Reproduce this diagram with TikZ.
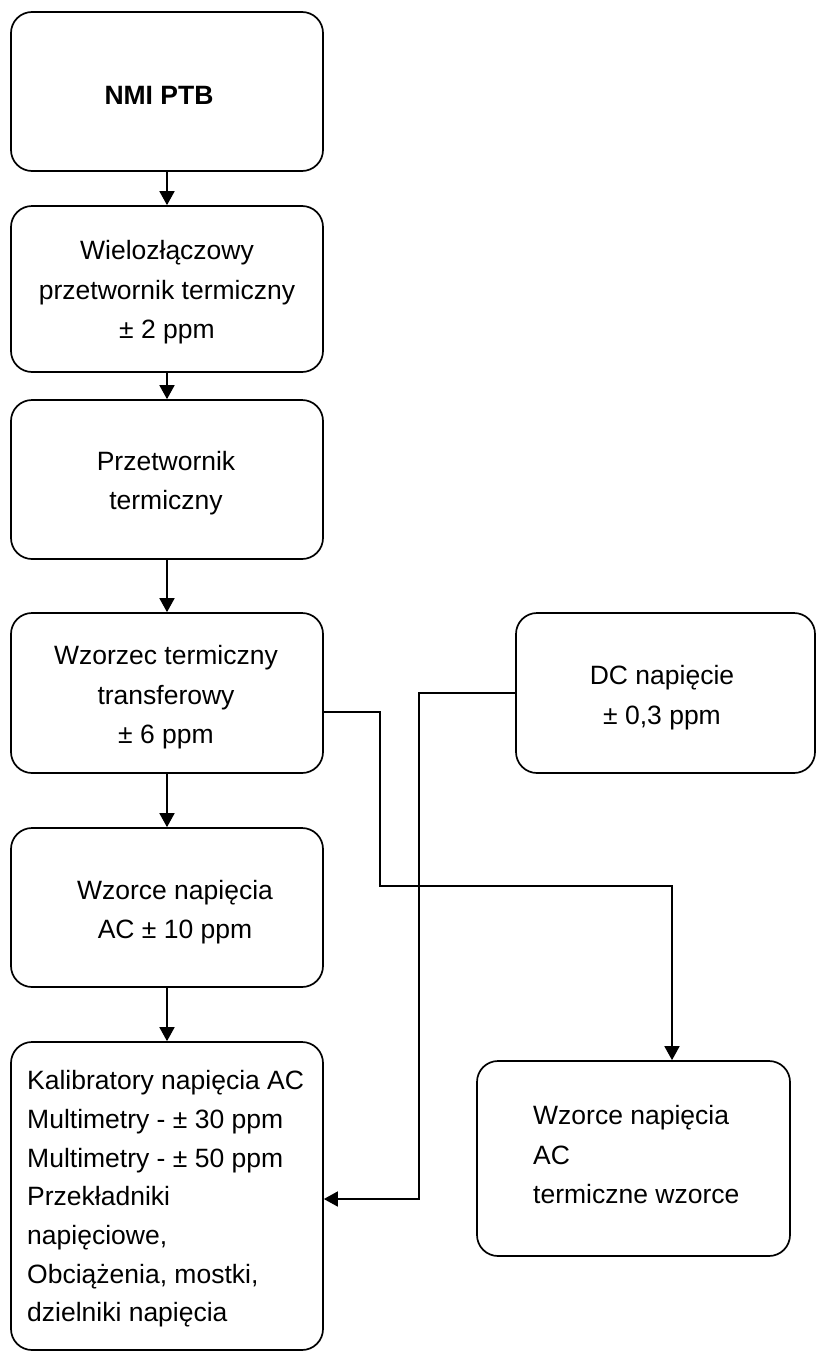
\documentclass[tikz,border=0pt]{standalone}
\usepackage{fontspec}
\setmainfont{Liberation Sans}
\usetikzlibrary{arrows.meta}
\begin{document}
\begin{tikzpicture}[x=1pt,y=-1pt,
  box/.style={draw, line width=1.7pt, rounded corners=21pt, inner sep=0pt},
  txt/.style={inner sep=0pt, font=\fontsize{26.5}{39.5}\selectfont},
  arr/.style={line width=1.7pt, -{Triangle[length=14pt,width=15pt]}}]
\useasboundingbox (0,0) rectangle (816,1352);
% boxes
\node[box, minimum width=312pt, minimum height=159pt] (B1) at (167,91.5) {};
\node[box, minimum width=312pt, minimum height=166pt] (B2) at (167,289) {};
\node[box, minimum width=312pt, minimum height=159pt] (B3) at (167,479.5) {};
\node[box, minimum width=312pt, minimum height=160pt] (B4) at (167,693) {};
\node[box, minimum width=312pt, minimum height=159pt] (B5) at (167,907.5) {};
\node[box, minimum width=312pt, minimum height=308pt] (B6) at (167,1196) {};
\node[box, minimum width=299pt, minimum height=160pt] (B7) at (665.5,693) {};
\node[box, minimum width=313pt, minimum height=195pt] (B8) at (633.5,1158.5) {};
% texts
\node[txt, font=\fontsize{26.5}{39.5}\selectfont\bfseries] (t1) at (159,95) {NMI PTB};
\node[txt, align=center] (t2) at (167,292.5) {Wielozłączowy\\przetwornik termiczny\\± 2 ppm};
\node[txt, align=center] (t3) at (166,483) {Przetwornik\\termiczny};
\node[txt, align=center] (t4) at (166,697.5) {Wzorzec termiczny\\transferowy\\± 6 ppm};
\node[txt, align=center] (t5) at (175,912) {Wzorce napięcia\\AC ± 10 ppm};
\node[txt, align=left, anchor=west, font=\fontsize{26.5}{38.7}\selectfont] (t6) at (27,1199) {Kalibratory napięcia AC\\Multimetry - ± 30 ppm\\Multimetry - ± 50 ppm\\Przekładniki\\napięciowe,\\Obciążenia, mostki,\\dzielniki napięcia};
\node[txt, align=center] (t7) at (662,697.5) {DC napięcie\\± 0,3 ppm};
\node[txt, align=left, anchor=west] (t8) at (533,1155) {Wzorce napięcia\\AC\\termiczne wzorce};
% connectors
\draw[arr] (B1.south) -- (B2.north);
\draw[arr] (B2.south) -- (B3.north);
\draw[arr] (B3.south) -- (B4.north);
\draw[arr] (B4.south) -- (B5.north);
\draw[arr] (B5.south) -- (B6.north);
\coordinate (k1) at (380,886);
\coordinate (k2) at (419,1199);
\draw[arr] ([yshift=-19pt]B4.east) -| (k1) -| ([xshift=38.5pt]B8.north);
\draw[arr] (B7.west) -| (k2) -- ([yshift=-3pt]B6.east);
\end{tikzpicture}
\end{document}
